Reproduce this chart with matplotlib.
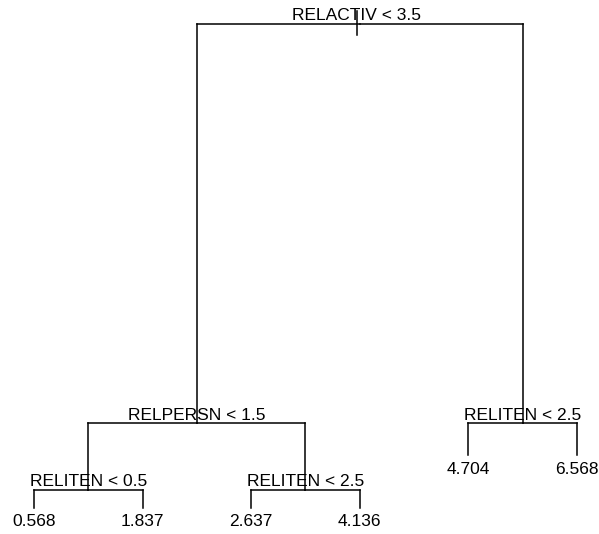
import matplotlib.pyplot as plt

# nodes of the regression tree: x = leaf-order position, y = node depth (deviance scale)
node_x = [3.97, 2.5, 1.5, 3.5, 5.5, 1, 2, 3, 4, 5, 6]
node_y = [484, 85, 18, 18, 85, 0, 0, 0, 0, 53, 53]
node_parent = [None, 0, 1, 1, 0, 2, 2, 3, 3, 4, 4]
split_labels = ["RELACTIV < 3.5", "RELPERSN < 1.5", "RELITEN < 0.5",
                "RELITEN < 2.5", "RELITEN < 2.5"]
leaf_values = ["0.568", "1.837", "2.637", "4.136", "4.704", "6.568"]

fig = plt.figure(figsize=(5.99, 5.34), dpi=100)
ax = fig.add_axes([0, 0, 1, 1])
ax.set_xlim(0.687, 6.203)
ax.set_ylim(-26, 508)
ax.axis('off')

lw = 1.1
# root stub
ax.plot([node_x[0], node_x[0]], [node_y[0] - 11, node_y[0] + 13], color='black', lw=lw)

for i, p in enumerate(node_parent):
    if p is None:
        continue
    # horizontal from parent to child at parent height, then vertical down
    x_from = node_x[p] if p != 0 else (node_x[1] + node_x[4]) / 2
    ax.plot([x_from, node_x[i]], [node_y[p], node_y[p]], color='black', lw=lw)
    ax.plot([node_x[i], node_x[i]], [node_y[p], node_y[i]], color='black', lw=lw)

for k, lab in enumerate(split_labels):
    ax.text(node_x[k], node_y[k] + 8, lab, ha='center', va='center',
            fontsize=12.5, family='Liberation Sans')

for k, lab in enumerate(leaf_values):
    i = len(split_labels) + k
    ax.text(node_x[i], node_y[i] - 14, lab, ha='center', va='center',
            fontsize=12.5, family='Liberation Sans')

fig.savefig('out.png', dpi=100)
